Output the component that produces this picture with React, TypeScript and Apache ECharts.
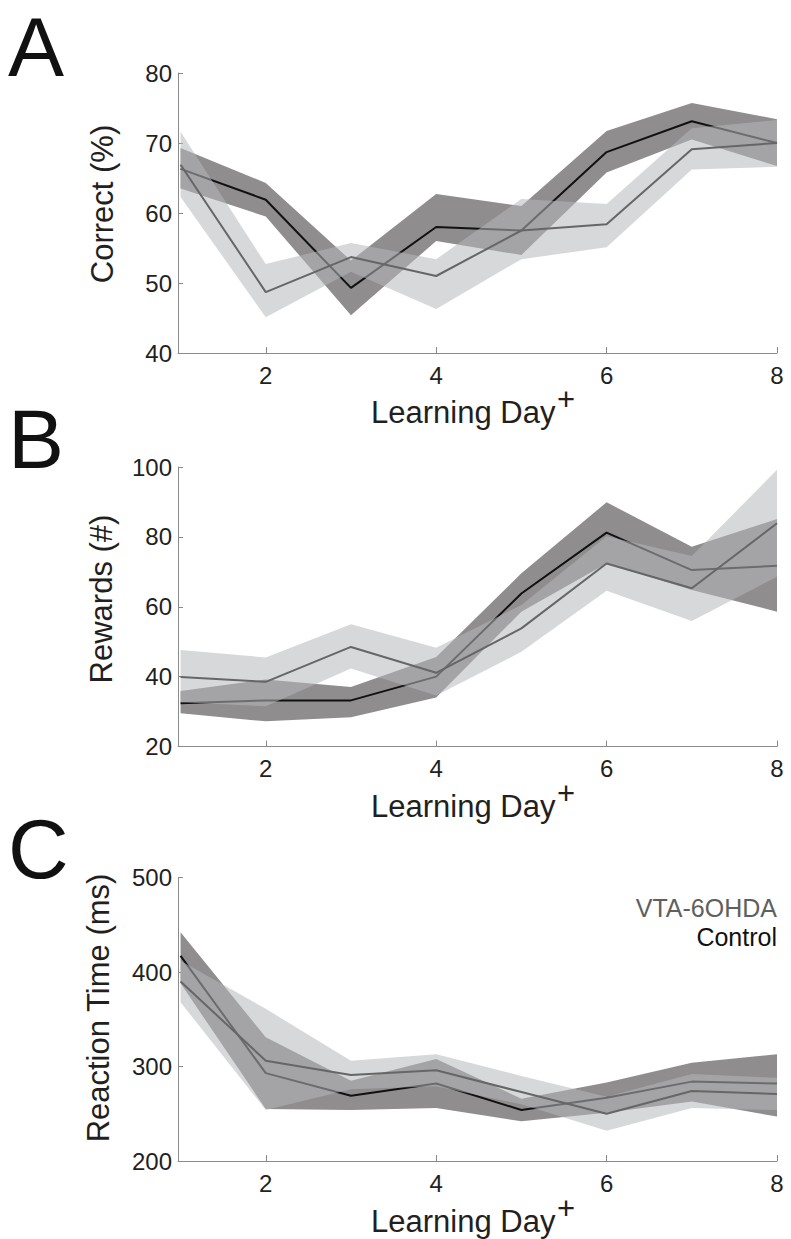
import React, { useEffect, useRef } from "react";
import * as echarts from "echarts";

// ---------- data ----------
const days = [1, 2, 3, 4, 5, 6, 7, 8];
const xTickValues = [2, 4, 6, 8];

// Panel A: Correct (%)
const ctrlCorrectMean = [66.3, 61.9, 49.3, 58.0, 57.5, 68.7, 73.1, 70.0];
const ctrlCorrectUpper = [69.3, 64.3, 53.2, 62.7, 61.0, 71.7, 75.7, 73.4];
const ctrlCorrectLower = [63.5, 59.5, 45.4, 56.0, 54.0, 65.8, 70.5, 66.7];
const vtaCorrectMean = [66.9, 48.7, 53.7, 51.0, 57.5, 58.4, 69.1, 70.0];
const vtaCorrectUpper = [71.6, 52.7, 55.7, 53.4, 62.0, 61.3, 72.1, 73.3];
const vtaCorrectLower = [62.3, 45.1, 51.6, 46.3, 53.4, 55.1, 66.2, 66.6];

// Panel B: Rewards (#)
const ctrlRewardsMean = [32.4, 33.2, 33.2, 40.0, 63.8, 81.2, 70.5, 71.7];
const ctrlRewardsUpper = [35.9, 39.2, 37.0, 45.6, 69.6, 89.9, 77.2, 85.1];
const ctrlRewardsLower = [29.5, 27.2, 28.4, 34.0, 58.6, 72.4, 64.8, 58.6];
const vtaRewardsMean = [39.9, 38.5, 48.5, 41.1, 53.8, 72.4, 65.3, 83.9];
const vtaRewardsUpper = [47.6, 45.5, 55.0, 48.3, 60.5, 80.2, 74.5, 99.2];
const vtaRewardsLower = [32.7, 31.5, 42.3, 34.6, 47.1, 64.6, 55.9, 68.6];

// Panel C: Reaction Time (ms)
const ctrlRtMean = [417, 293, 269, 282, 254, 267, 284, 282];
const ctrlRtUpper = [442, 331, 285, 308, 266, 283, 304, 313];
const ctrlRtLower = [388, 255, 254, 256, 242, 251, 263, 247];
const vtaRtMean = [390, 306, 291, 296, 273, 250, 274, 271];
const vtaRtUpper = [412, 361, 306, 313, 290, 268, 292, 288];
const vtaRtLower = [368, 254, 276, 279, 260, 232, 256, 254];

const yTitles = ["Correct (%)", "Rewards (#)", "Reaction Time (ms)"];
const panelLetters = ["A", "B", "C"];
const legendLabels = ["VTA-6OHDA", "Control"];

// ---------- styles ----------
const FONT = "'Liberation Sans', Arial, Helvetica, sans-serif";
const TEXT = "#231f20";
const AXIS = "#8a8a8a";
const CTRL_BAND = "#8f8d8e";
const VTA_BAND = "rgba(183,184,186,0.55)";
const CTRL_LINE = "#111111";
const VTA_LINE = "#666666";

const grids = [
  { left: 178, top: 73, width: 599, height: 280 },
  { left: 178, top: 467, width: 599, height: 279.5 },
  { left: 178, top: 877.5, width: 599, height: 283.5 },
];
const yRanges = [
  { min: 40, max: 80, interval: 10 },
  { min: 20, max: 100, interval: 20 },
  { min: 200, max: 500, interval: 100 },
];

function band(idx: number, upper: number[], lower: number[], color: string, z: number) {
  return {
    type: "custom",
    xAxisIndex: idx,
    yAxisIndex: idx,
    z,
    silent: true,
    data: [[days[0], upper[0]]],
    renderItem: (_params: any, api: any) => {
      const top = days.map((d, i) => api.coord([d, upper[i]]));
      const bot = days.map((d, i) => api.coord([d, lower[i]])).reverse();
      return {
        type: "polygon",
        shape: { points: top.concat(bot) },
        style: { fill: color },
      };
    },
  };
}

function line(idx: number, mean: number[], color: string, z: number) {
  return {
    type: "line",
    xAxisIndex: idx,
    yAxisIndex: idx,
    z,
    silent: true,
    showSymbol: false,
    symbol: "none",
    data: days.map((d, i) => [d, mean[i]]),
    lineStyle: { color, width: 2 },
    itemStyle: { color },
  };
}

export default function App() {
  const ref = useRef<HTMLDivElement>(null);

  useEffect(() => {
    if (!ref.current) return;
    const chart = echarts.init(ref.current, null, { renderer: "svg" });

    const xAxes = grids.map((_, i) => ({
      type: "value",
      gridIndex: i,
      min: 0.97,
      max: 8,
      splitLine: { show: false },
      axisLine: { show: true, lineStyle: { color: AXIS, width: 1 } },
      axisTick: {
        show: true,
        inside: true,
        length: 6,
        customValues: xTickValues,
        lineStyle: { color: AXIS, width: 1 },
      },
      axisLabel: {
        show: true,
        customValues: xTickValues,
        fontSize: 24,
        fontFamily: FONT,
        color: TEXT,
        margin: 10,
      },
    }));

    const yAxes = grids.map((_, i) => ({
      type: "value",
      gridIndex: i,
      min: yRanges[i].min,
      max: yRanges[i].max,
      interval: yRanges[i].interval,
      splitLine: { show: false },
      axisLine: { show: true, lineStyle: { color: AXIS, width: 1 } },
      axisTick: { show: true, inside: true, length: 5, lineStyle: { color: AXIS, width: 1 } },
      axisLabel: { fontSize: 24, fontFamily: FONT, color: TEXT, margin: 6 },
    }));

    const series = [
      band(0, ctrlCorrectUpper, ctrlCorrectLower, CTRL_BAND, 1),
      line(0, ctrlCorrectMean, CTRL_LINE, 2),
      band(0, vtaCorrectUpper, vtaCorrectLower, VTA_BAND, 3),
      line(0, vtaCorrectMean, VTA_LINE, 4),
      band(1, ctrlRewardsUpper, ctrlRewardsLower, CTRL_BAND, 1),
      line(1, ctrlRewardsMean, CTRL_LINE, 2),
      band(1, vtaRewardsUpper, vtaRewardsLower, VTA_BAND, 3),
      line(1, vtaRewardsMean, VTA_LINE, 4),
      band(2, ctrlRtUpper, ctrlRtLower, CTRL_BAND, 1),
      line(2, ctrlRtMean, CTRL_LINE, 2),
      band(2, vtaRtUpper, vtaRtLower, VTA_BAND, 3),
      line(2, vtaRtMean, VTA_LINE, 4),
    ];

    const letterY = [47, 438.5, 849];
    const yTitlePos = [
      [102, 204],
      [101, 599],
      [98, 1008],
    ];
    const xTitleY = [412, 806.5, 1221];

    const graphics: any[] = [];
    panelLetters.forEach((l, i) => {
      graphics.push({
        type: "text",
        x: 8,
        y: letterY[i],
        style: {
          text: l,
          fontSize: 84,
          fontFamily: FONT,
          fill: "#111",
          align: "left",
          verticalAlign: "middle",
        },
      });
    });
    yTitles.forEach((t, i) => {
      graphics.push({
        type: "text",
        x: yTitlePos[i][0],
        y: yTitlePos[i][1],
        rotation: Math.PI / 2,
        style: {
          text: t,
          fontSize: 31,
          fontFamily: FONT,
          fill: TEXT,
          align: "center",
          verticalAlign: "middle",
        },
      });
    });
    xTitleY.forEach((y) => {
      graphics.push({
        type: "text",
        x: 371,
        y,
        style: {
          text: "Learning Day",
          fontSize: 31,
          fontFamily: FONT,
          fill: TEXT,
          align: "left",
          verticalAlign: "middle",
        },
      });
      graphics.push({
        type: "text",
        x: 557,
        y: y - 13,
        style: {
          text: "+",
          fontSize: 31,
          fontFamily: FONT,
          fill: TEXT,
          align: "left",
          verticalAlign: "middle",
        },
      });
    });
    graphics.push({
      type: "text",
      x: 777,
      y: 908,
      style: {
        text: legendLabels[0],
        fontSize: 25,
        fontFamily: FONT,
        fill: "#5f5f5f",
        align: "right",
        verticalAlign: "middle",
      },
    });
    graphics.push({
      type: "text",
      x: 777,
      y: 937,
      style: {
        text: legendLabels[1],
        fontSize: 25,
        fontFamily: FONT,
        fill: "#111",
        align: "right",
        verticalAlign: "middle",
      },
    });

    chart.setOption({
      animation: false,
      backgroundColor: "#ffffff",
      grid: grids.map((g) => ({ ...g, containLabel: false })),
      xAxis: xAxes,
      yAxis: yAxes,
      series,
      graphic: graphics,
    });

    return () => chart.dispose();
  }, []);

  return (
    <div
      ref={ref}
      style={{ position: "absolute", left: 0, top: 0, width: 791, height: 1239, background: "#fff" }}
    />
  );
}
